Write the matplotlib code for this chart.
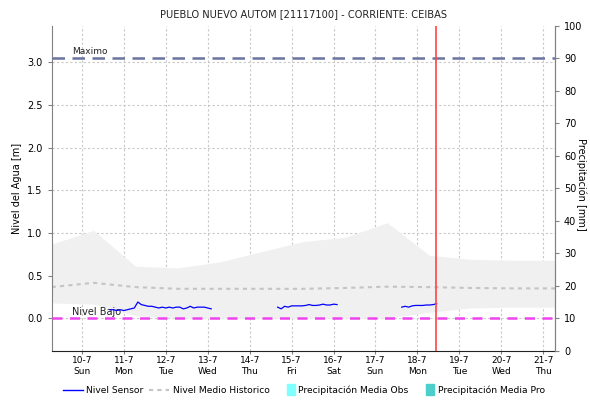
import matplotlib.pyplot as plt
import numpy as np
from matplotlib.lines import Line2D
from matplotlib.patches import Patch, Rectangle
from matplotlib.legend_handler import HandlerPatch

# days of July, x axis in days
dayTicks = [10, 11, 12, 13, 14, 15, 16, 17, 18, 19, 20, 21]
dayNames = ['Sun', 'Mon', 'Tue', 'Wed', 'Thu', 'Fri', 'Sat', 'Sun', 'Mon', 'Tue', 'Wed', 'Thu']

# historic envelope, one value per day (07:00)
histDays = [9.28, 10.28, 11.28, 12.28, 13.28, 14.28, 15.28, 16.28, 17.28, 18.28, 19.28, 20.28, 21.28]
histMax = [0.87, 1.03, 0.61, 0.59, 0.66, 0.78, 0.90, 0.95, 1.12, 0.74, 0.69, 0.68, 0.68]
histMin = [0.18, 0.165, 0.03, 0.0, 0.0, 0.0, 0.0, 0.0, 0.0, 0.07, 0.12, 0.13, 0.13]
histMean = [0.365, 0.415, 0.365, 0.345, 0.345, 0.345, 0.345, 0.355, 0.37, 0.365, 0.355, 0.35, 0.35]

# sensor readings every 2 hours, three pieces with gaps in between
sensorStart1 = 10.667
sensor1 = [0.10, 0.10, 0.09, 0.10, 0.09, 0.10, 0.11, 0.12, 0.19, 0.16,
           0.15, 0.14, 0.14, 0.13, 0.12, 0.13, 0.12, 0.13, 0.12, 0.13,
           0.13, 0.11, 0.12, 0.14, 0.12, 0.13, 0.13, 0.13, 0.12, 0.11]
sensorStart2 = 14.667
sensor2 = [0.13, 0.11, 0.14, 0.13, 0.145, 0.145, 0.145, 0.145, 0.15,
           0.16, 0.15, 0.15, 0.155, 0.165, 0.155, 0.155, 0.165, 0.16]
sensorStart3 = 17.625
sensor3 = [0.13, 0.14, 0.13, 0.145, 0.15, 0.15, 0.15, 0.155, 0.155, 0.16, 0.17]

nivelMaximo = 3.05
nivelBajo = 0.0
ahora = 18.44

title = 'PUEBLO NUEVO AUTOM [21117100] - CORRIENTE: CEIBAS'

plt.rcParams['font.family'] = 'DejaVu Sans'
fig = plt.figure(figsize=(5.9, 4.01), dpi=100)
ax = fig.add_axes([0.0876, 0.1254, 0.8531, 0.8106])

# band of historic min/max
ax.fill_between(histDays, histMin, histMax, color='#f0f0f0', linewidth=0, zorder=1)
ax.plot(histDays, histMean, color='#c4c4c4', linewidth=1.5, linestyle=(0, (2, 2)), zorder=2)

step = 1.0 / 12
for start, vals in [(sensorStart1, sensor1), (sensorStart2, sensor2), (sensorStart3, sensor3)]:
    t = start + step * np.arange(len(vals))
    ax.plot(t, vals, color='#0000ff', linewidth=0.9, zorder=4)

ax.axhline(nivelMaximo, color='#6a749e', linewidth=1.8, linestyle=(0, (5, 3)), zorder=3)
ax.axhline(nivelBajo, color='#ee44ee', linewidth=1.8, linestyle=(0, (4, 3)), zorder=3)
ax.axvline(ahora, color='#ff4444', linewidth=1.2, zorder=5)

ax.text(9.77, nivelMaximo + 0.02, 'Maximo', fontsize=6.5, color='#222222', va='bottom')
ax.text(9.77, nivelBajo + 0.02, 'Nivel Bajo', fontsize=7, color='#222222', va='bottom')

ax.set_xlim(9.28, 21.28)
ax.set_ylim(-0.381, 3.431)
ax.set_xticks(dayTicks)
ax.set_xticklabels([str(d) + '-7\n' + n for d, n in zip(dayTicks, dayNames)], fontsize=6.5)
ax.set_yticks([0.0, 0.5, 1.0, 1.5, 2.0, 2.5, 3.0])
ax.set_yticklabels(['0.0', '0.5', '1.0', '1.5', '2.0', '2.5', '3.0'], fontsize=7)
ax.grid(True, color='#c8c8c8', linestyle=(0, (2, 2)), linewidth=0.8)
ax.set_axisbelow(True)
ax.tick_params(axis='y', length=3, color='#808080')
ax.tick_params(axis='x', length=2, color='#808080', pad=2)
ax.set_ylabel('Nivel del Agua [m]', fontsize=7)
ax.set_title(title, fontsize=7.1, color='#222222', pad=6)

ax.spines['top'].set_visible(False)
ax.spines['left'].set_color('#808080')
ax.spines['right'].set_color('#808080')
ax.spines['bottom'].set_color('#222222')
ax.spines['bottom'].set_linestyle((0, (1, 1)))

# precipitation axis on the right
ax2 = ax.twinx()
ax2.set_ylim(0, 100)
ax2.set_yticks(range(0, 101, 10))
ax2.tick_params(axis='y', labelsize=7, length=3, color='#808080')
for s in ['top', 'left', 'bottom']:
    ax2.spines[s].set_visible(False)
ax2.spines['right'].set_color('#808080')
# label placed by hand so it stays inside the figure
fig.text(0.985, 0.54, 'Precipitación [mm]', fontsize=7, rotation=270, ha='center', va='center')


# narrow colour block at the right end of the handle box
def narrowPatch(legend, orig_handle, xdescent, ydescent, width, height, fontsize):
    return Rectangle((width - 6 - xdescent, -ydescent - 1.5), 6, height + 3)


handles = [Line2D([], [], color='#0000ff', linewidth=1),
           Line2D([], [], color='#c4c4c4', linewidth=1.5, linestyle=(0, (2, 2))),
           Patch(color='#80ffff'),
           Patch(color='#4ccfcb')]
labels = ['Nivel Sensor', 'Nivel Medio Historico', 'Precipitación Media Obs', 'Precipitación Media Pro']
fig.legend(handles, labels, loc='lower center', bbox_to_anchor=(0.515, -0.005), ncol=4, frameon=False,
           fontsize=6.6, handlelength=2.2, handletextpad=0.35, columnspacing=0.6,
           handler_map={Patch: HandlerPatch(patch_func=narrowPatch)})

fig.savefig('out.png', dpi=100)
